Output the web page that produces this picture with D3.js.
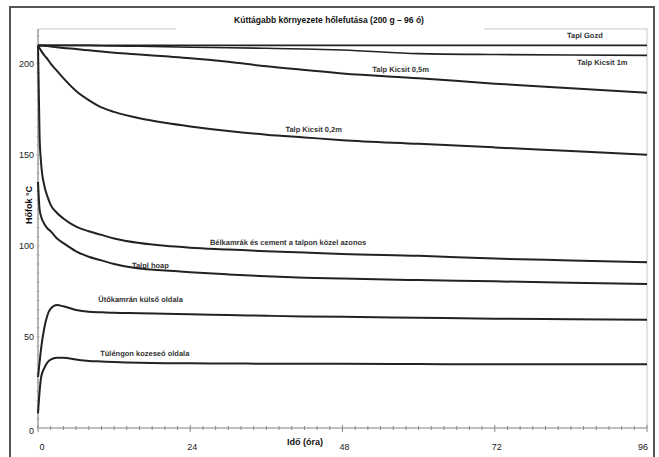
<!DOCTYPE html>
<html>
<head>
<meta charset="utf-8">
<script src="https://cdn.jsdelivr.net/npm/d3@7"></script>
<style>
  body { margin: 0; background: #fff; }
  svg { display: block; font-family: "Liberation Sans", Arial, sans-serif; }
</style>
</head>
<body>
<svg id="plot"></svg>
<script>
// time in hours, temperatures in °C
const hours = [0, 0.25, 0.5, 1, 1.5, 2, 3, 4, 6, 8, 10, 12, 16, 20, 24, 30, 36, 42, 48, 60, 72, 84, 96];

const taplGozd   = [210, 210, 210, 210, 210, 210, 210, 210, 210, 210, 210, 210, 210, 210, 210, 210, 210, 210, 210, 210, 210, 210, 210];
const talp1m     = [210, 210, 210, 210, 210, 210, 210, 210, 210, 210, 209.8, 209.7, 209.5, 209.3, 209, 208.7, 208.4, 208, 207.5, 205.5, 205, 204.7, 204.5];
const talp05m    = [210, 210, 209.9, 209.8, 209.6, 209.4, 209, 208.6, 208, 207.3, 206.6, 206, 205, 204, 203, 201, 198.5, 196.5, 194.6, 192, 189, 186.5, 184];
const talp02m    = [210, 208.5, 207, 204.5, 202.5, 200, 196, 192, 185, 180, 176, 173.5, 170, 167.5, 165.5, 163, 161, 159.5, 158, 156, 154, 152, 150];
const belkamra   = [210, 160, 145, 133, 127, 122.5, 118, 115, 110.5, 108, 106, 104, 101.5, 100, 99, 98, 97, 96.3, 95.5, 94.5, 93, 92, 91];
const talplHoap  = [135, 120, 116, 112, 109.5, 108, 104, 101.5, 97, 94, 92, 90, 87.5, 86.5, 85.5, 84.3, 83.3, 82.5, 82, 81.2, 80.5, 79.7, 79];
const utokamra   = [28, 36, 44, 55, 62, 65.5, 67.5, 66.8, 64.8, 63.8, 63.5, 63.2, 63, 62.7, 62.4, 62, 61.6, 61.2, 61, 60.5, 60, 59.7, 59.4];
const tulengon   = [8, 20, 28, 33, 36, 37.5, 38.5, 38.6, 37.6, 36.8, 36.5, 36.2, 35.8, 35.6, 35.5, 35.4, 35.3, 35.2, 35.2, 35.1, 35, 35, 35];

const seriesNames = [
  "Tapl Gozd",
  "Talp Kicsit 1m",
  "Talp Kicsit 0,5m",
  "Talp Kicsit 0,2m",
  "Bélkamrák és cement a talpon közel azonos",
  "Talpl hoap",
  "Ütőkamrán külső oldala",
  "Tüléngon kozeseó oldala"
];
const seriesValues = [taplGozd, talp1m, talp05m, talp02m, belkamra, talplHoap, utokamra, tulengon];
// where each label sits, in [hour, °C]
const labelAt = [[83.4, 214.3], [85, 199], [52.7, 195.6], [39, 162.6], [27.1, 100.5], [14.8, 88], [9.5, 69.2], [9.8, 39.6]];

const xTicks = [0, 24, 48, 72, 96];
const yTicks = [0, 50, 100, 150, 200];

const title = "Kúttágabb környezete hőlefutása (200 g – 96 ó)";
const xTitle = "Idő (óra)";
const yTitle = "Hőfok °C";

const W = 659, H = 457;
const svg = d3.select("#plot").attr("width", W).attr("height", H);

const plot = { left: 38, right: 647, top: 29, bottom: 428 };

const x = d3.scaleLinear().domain([0, 96]).range([plot.left, plot.right]);
const y = d3.scaleLinear().domain([0, 219]).range([plot.bottom, plot.top]);

// outer frame
svg.append("rect")
  .attr("x", 10).attr("y", 7).attr("width", 644).attr("height", 460)
  .attr("fill", "none").attr("stroke", "#555").attr("stroke-width", 2);

// plot area frame (light)
svg.append("rect")
  .attr("x", plot.left).attr("y", plot.top)
  .attr("width", plot.right - plot.left).attr("height", plot.bottom - plot.top)
  .attr("fill", "none").attr("stroke", "#c8c8c8").attr("stroke-width", 1);

// title with white box
svg.append("rect")
  .attr("x", 176).attr("y", 12).attr("width", 308).attr("height", 22)
  .attr("fill", "#fff");
svg.append("text")
  .attr("x", 329).attr("y", 23)
  .attr("text-anchor", "middle")
  .attr("font-size", 8.5).attr("font-weight", "bold").attr("fill", "#111")
  .text(title);

// x axis with minor ticks every 2 hours
const xAxis = svg.append("g").attr("transform", `translate(0,${plot.bottom})`);
xAxis.append("line")
  .attr("x1", plot.left).attr("x2", plot.right)
  .attr("stroke", "#999").attr("stroke-width", 1.2);
xAxis.selectAll(".minor")
  .data(d3.range(0, 97, 2))
  .join("line")
  .attr("x1", d => x(d)).attr("x2", d => x(d))
  .attr("y1", d => (d % 24 === 0 ? -3 : -2)).attr("y2", d => (d % 24 === 0 ? 4 : 2))
  .attr("stroke", "#888").attr("stroke-width", 1);

svg.append("g").selectAll("text")
  .data(xTicks)
  .join("text")
  .attr("x", d => (d === 0 ? x(d) + 4 : d === 96 ? x(d) - 4 : x(d) + 2))
  .attr("y", 450)
  .attr("text-anchor", "middle")
  .attr("font-size", 9).attr("fill", "#222")
  .text(d => d);

// y axis
svg.append("line")
  .attr("x1", plot.left).attr("x2", plot.left)
  .attr("y1", plot.top).attr("y2", plot.bottom)
  .attr("stroke", "#999").attr("stroke-width", 1.2);
svg.append("g").selectAll("line")
  .data(d3.range(0, 220, 5))
  .join("line")
  .attr("x1", plot.left - 1.5).attr("x2", plot.left + 1.5)
  .attr("y1", d => y(d)).attr("y2", d => y(d))
  .attr("stroke", "#aaa").attr("stroke-width", 1);

svg.append("g").selectAll("text")
  .data(yTicks)
  .join("text")
  .attr("x", 34)
  .attr("y", d => y(d) + (d === 0 ? 6 : 3))
  .attr("text-anchor", "end")
  .attr("font-size", 9).attr("fill", "#222")
  .text(d => d);

// axis titles
svg.append("text")
  .attr("transform", "translate(32,205) rotate(-90)")
  .attr("text-anchor", "middle")
  .attr("font-size", 9).attr("font-weight", "bold").attr("fill", "#111")
  .text(yTitle);

svg.append("rect")
  .attr("x", 284).attr("y", 435).attr("width", 42).attr("height", 14)
  .attr("fill", "#fff");
svg.append("text")
  .attr("x", 305).attr("y", 445)
  .attr("text-anchor", "middle")
  .attr("font-size", 9).attr("font-weight", "bold").attr("fill", "#111")
  .text(xTitle);

// curves
const line = d3.line()
  .x((d, i) => x(hours[i]))
  .y(d => y(d))
  .curve(d3.curveMonotoneX);

svg.append("g").selectAll("path")
  .data(seriesValues)
  .join("path")
  .attr("d", d => line(d))
  .attr("fill", "none")
  .attr("stroke", "#222")
  .attr("stroke-width", (d, i) => (i < 2 ? 1.6 : 2));

// curve labels
svg.append("g").selectAll("text")
  .data(seriesNames)
  .join("text")
  .attr("x", (d, i) => x(labelAt[i][0]))
  .attr("y", (d, i) => y(labelAt[i][1]))
  .attr("font-family", "'Liberation Sans Narrow', 'Liberation Sans', sans-serif")
  .attr("font-size", 7.5).attr("font-weight", "bold").attr("fill", "#333")
  .style("text-rendering", "geometricPrecision")
  .text(d => d);
</script>
</body>
</html>
